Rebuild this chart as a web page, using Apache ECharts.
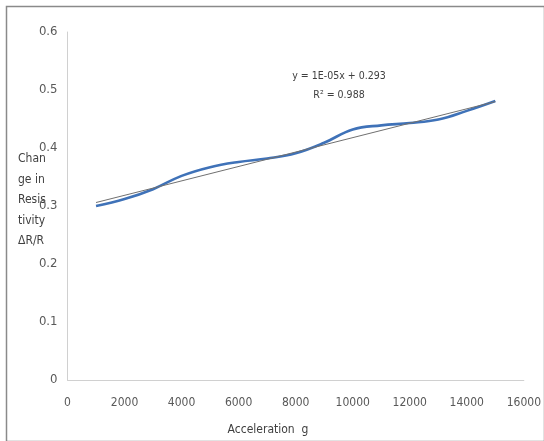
<!DOCTYPE html>
<html>
<head>
<meta charset="utf-8">
<script src="https://cdn.jsdelivr.net/npm/echarts@6/dist/echarts.min.js"></script>
<style>
html,body{margin:0;padding:0;background:#fff;}
#c{width:544px;height:441px;}
</style>
</head>
<body>
<div id="c"></div>
<script>
const acceleration = [1000, 2000, 3000, 4000, 5000, 6000, 7000, 8000, 9000, 10000, 11000, 12000, 13000, 14000, 15000];
const resistivity = [0.300, 0.312, 0.329, 0.352, 0.367, 0.376, 0.382, 0.391, 0.409, 0.432, 0.439, 0.443, 0.449, 0.464, 0.481];
const trendX = [1000, 15000];
const trendY = [0.306, 0.480];
const equationText = 'y = 1E-05x + 0.293';
const r2Text = 'R² = 0.988';
const yAxisTitle = ['Chan', 'ge in', 'Resis', 'tivity', 'ΔR/R'];
const xAxisTitle = 'Acceleration  g';

const FONT = "'DejaVu Sans Condensed', 'Liberation Sans Narrow', 'Liberation Sans', sans-serif";
const chart = echarts.init(document.getElementById('c'), null, {renderer: 'canvas'});
chart.setOption({
  animation: false,
  backgroundColor: '#fff',
  grid: {left: 67.5, top: 32, right: 16.5, bottom: 61, containLabel: false},
  xAxis: {
    type: 'value', min: 0, max: 16000, interval: 2000,
    axisLine: {show: true, lineStyle: {color: '#d0d0d0', width: 1}},
    axisTick: {show: false},
    splitLine: {show: false},
    axisLabel: {color: '#595959', fontFamily: FONT, fontSize: 12, margin: 17, formatter: v => String(v)}
  },
  yAxis: {
    type: 'value', min: 0, max: 0.6, interval: 0.1,
    axisLine: {show: true, lineStyle: {color: '#d0d0d0', width: 1}},
    axisTick: {show: false},
    splitLine: {show: false},
    axisLabel: {color: '#595959', fontFamily: FONT, fontSize: 13, margin: 10, formatter: v => String(+v.toFixed(1))}
  },
  series: [
    {
      type: 'line', name: 'data',
      data: acceleration.map((x, i) => [x, resistivity[i]]),
      smooth: 0.4, showSymbol: false, symbol: 'none',
      lineStyle: {color: '#3f72b8', width: 2.6},
      z: 3
    },
    {
      type: 'line', name: 'trend',
      data: trendX.map((x, i) => [x, trendY[i]]),
      showSymbol: false, symbol: 'none',
      lineStyle: {color: '#707070', width: 1},
      z: 4
    }
  ],
  graphic: [
    {type: 'rect', left: 4, top: 4, shape: {width: 538, height: 435},
     style: {fill: 'none', stroke: '#8a8a8a', lineWidth: 1.5}, silent: true},
    {type: 'text', x: 339, y: 76, style: {text: equationText, fontFamily: FONT, fontSize: 10.5, fill: '#404040', align: 'center', verticalAlign: 'middle'}},
    {type: 'text', x: 339, y: 95, style: {text: r2Text, fontFamily: FONT, fontSize: 10.5, fill: '#404040', align: 'center', verticalAlign: 'middle'}},
    {type: 'text', x: 18, y: 149, style: {text: yAxisTitle.join('\n'), fontFamily: FONT, fontSize: 12, lineHeight: 20.5, fill: '#404040', align: 'left', verticalAlign: 'top'}},
    {type: 'text', x: 268, y: 430, style: {text: xAxisTitle, fontFamily: FONT, fontSize: 12, fill: '#404040', align: 'center', verticalAlign: 'middle'}}
  ]
});
</script>
</body>
</html>
